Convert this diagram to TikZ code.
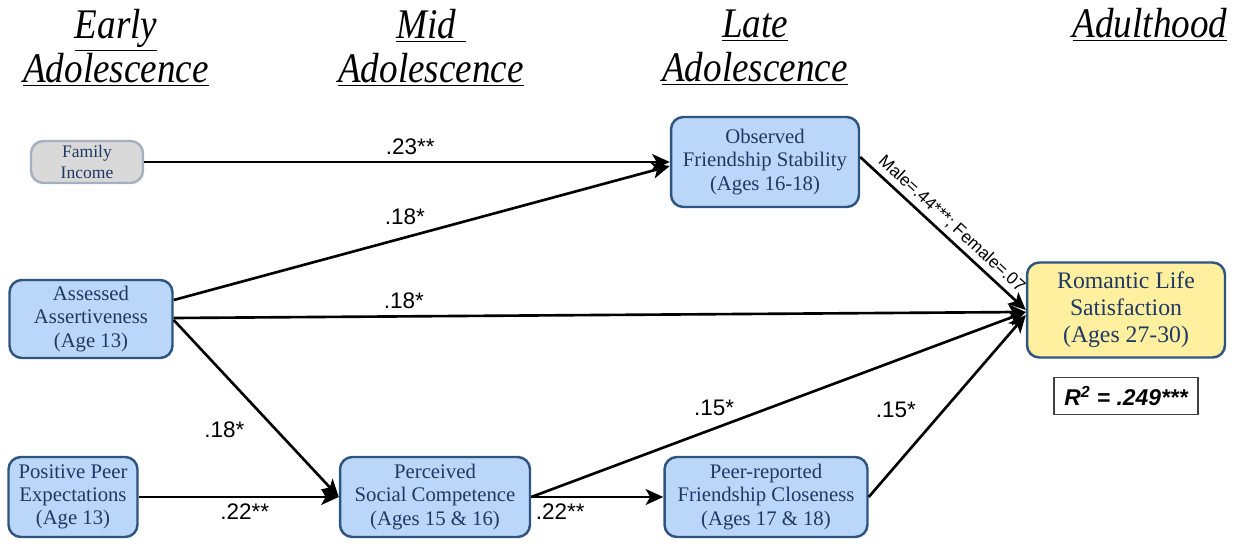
\documentclass[tikz,border=0pt]{standalone}
\usepackage{fontspec}
\setmainfont{Liberation Serif}
\setsansfont{Liberation Sans}
\newfontfamily\headfont[FakeStretch=0.88]{Liberation Serif}
\usetikzlibrary{arrows.meta}
\definecolor{boxblue}{RGB}{186,214,248}
\definecolor{boxline}{RGB}{47,84,128}
\definecolor{boxtext}{RGB}{31,56,100}
\definecolor{boxyellow}{RGB}{255,240,160}
\definecolor{incfill}{RGB}{217,217,217}
\definecolor{incline}{RGB}{165,175,192}

\begin{document}
\begin{tikzpicture}[x=0.02cm,y=-0.02cm]
\tikzstyle{var}=[draw=boxline, fill=boxblue, text=boxtext, line width=1.4pt, rounded corners=7pt,
  align=center, inner sep=2pt, font=\fontsize{11.8}{13.3}\selectfont]
\tikzstyle{head}=[align=center, font=\headfont\itshape\fontsize{24}{25}\selectfont]
\tikzstyle{path}=[line width=1.5pt, -{Stealth[length=10pt,width=9pt,inset=2.5pt]}]
\tikzstyle{coef}=[font=\sffamily\fontsize{12.8}{14}\selectfont]
\useasboundingbox (0,0) rectangle (1247,544);

	% time periods
	\node[head] (h1) at (116,48) {\underline{Early}\\\underline{Adolescence}};
	\node[head] (h2) at (431,48) {\underline{Mid\ }\\\underline{Adolescence}};
	\node[head] (h3) at (755,48) {\underline{Late}\\\underline{Adolescence}};
	\node[head] (h4) at (1150,25) {\underline{Adulthood}};

	% variables
	\node[var, draw=incline, fill=incfill, minimum width=2.24cm, minimum height=0.84cm,
	  font=\fontsize{10}{12.5}\selectfont] (inc) at (87,162) {Family\\Income};
	\node[var, minimum width=3.26cm, minimum height=1.56cm] (ass) at (91,319) {Assessed\\Assertiveness\\(Age 13)};
	\node[var, minimum width=2.58cm, minimum height=1.6cm] (ppe) at (73,497) {Positive Peer\\Expectations\\(Age 13)};
	\node[var, minimum width=3.8cm, minimum height=1.6cm] (psc) at (435,497) {Perceived\\Social Competence\\(Ages 15 \& 16)};
	\node[var, minimum width=3.76cm, minimum height=1.8cm] (ofs) at (765,162) {Observed\\Friendship Stability\\(Ages 16-18)};
	\node[var, minimum width=4.06cm, minimum height=1.6cm] (pfc) at (766,497) {Peer-reported\\Friendship Closeness\\(Ages 17 \& 18)};
	\node[var, fill=boxyellow, minimum width=3.96cm, minimum height=1.9cm,
	  font=\fontsize{13.5}{15.3}\selectfont] (rls) at (1126,310) {Romantic Life\\Satisfaction\\(Ages 27-30)};
	\node[draw=black!75, line width=0.8pt, minimum width=2.88cm, minimum height=0.74cm,
	  font=\sffamily\bfseries\itshape\fontsize{13}{15}\selectfont] (r2) at (1126,396) {R\textsuperscript{2} = .249***};

	% paths
	\draw[path] (inc.east) -- node[coef, pos=0.506, above] (c1) {.23**} (ofs.west);
	\draw[path] ([yshift=.38cm]ass.east) -- node[coef, pos=0.466, above, yshift=3pt] (c2) {.18*} ([yshift=-.08cm]ofs.west);
	\draw[path] ([yshift=.02cm]ass.east) -- node[coef, pos=0.27, above] (c3) {.18*} ([yshift=-.04cm]rls.west);
	\draw[path] ([yshift=-.02cm]ass.east) -- node[coef, pos=0.62, left, xshift=-14pt] (c4) {.18*} (psc.west);
	\draw[path] (ppe.east) -- node[coef, pos=0.53, below] (c5) {.22**} (psc.west);
	\draw[path] (psc.east) -- node[coef, pos=0.22, below] (c6) {.22**} (pfc.west);
	\draw[path] (psc.east) -- node[coef, pos=0.37, above, yshift=3pt] (c7) {.15*} ([yshift=-.04cm]rls.west);
	\draw[path] (pfc.east) -- node[coef, pos=0.48, left, xshift=-12pt] (c8) {.15*} ([yshift=-.1cm]rls.west);
	\draw[path] ([yshift=.1cm]ofs.east) -- node[sloped, above, inner sep=2.5pt,
	  font=\sffamily\fontsize{9.8}{11}\selectfont] (c9) {Male=.44***; Female=.07} (rls.west);
\end{tikzpicture}
\end{document}
